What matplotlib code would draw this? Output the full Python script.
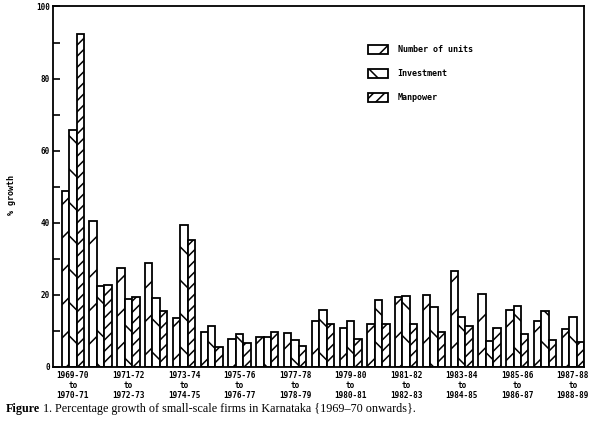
import matplotlib
matplotlib.use("Agg")
import matplotlib.pyplot as plt
import numpy as np
from matplotlib.ticker import MultipleLocator

# ---- data (percentage growth) ----
units = [48.7, 40.6, 27.6, 28.8, 13.7, 9.8, 7.9, 8.2, 9.5, 12.8,
         10.8, 11.9, 19.4, 20.0, 26.6, 20.2, 15.8, 12.8, 10.5]
investment = [65.8, 22.5, 18.8, 19.1, 39.4, 11.4, 9.1, 8.2, 7.5, 15.8,
              12.8, 18.6, 19.8, 16.6, 13.8, 7.3, 16.8, 15.6, 13.8]
manpower = [92.4, 22.8, 19.5, 15.6, 35.3, 5.5, 6.6, 9.8, 5.9, 11.8,
            7.8, 11.8, 11.8, 9.8, 11.4, 10.9, 9.2, 7.6, 6.8]
series_names = ["Number of units", "Investment", "Manpower"]
tick_groups = [0, 2, 4, 6, 8, 10, 12, 14, 16, 18]
tick_labels = ["1969-70\nto\n1970-71", "1971-72\nto\n1972-73", "1973-74\nto\n1974-75",
               "1975-76\nto\n1976-77", "1977-78\nto\n1978-79", "1979-80\nto\n1980-81",
               "1981-82\nto\n1982-83", "1983-84\nto\n1984-85", "1985-86\nto\n1986-87",
               "1987-88\nto\n1988-89"]
caption_bold = "Figure"
caption_rest = " 1. Percentage growth of small-scale firms in Karnataka {1969\u201370 onwards}."

plt.rcParams["font.family"] = ["DejaVu Sans Mono", "DejaVu Sans"]
plt.rcParams["font.weight"] = "bold"
plt.rcParams["hatch.linewidth"] = 1.1
plt.rcParams["hatch.color"] = "black"

fig = plt.figure(figsize=(6.0, 4.28), dpi=100)
ax = fig.add_axes([53 / 600, 1 - 367 / 428, 531 / 600, 360.5 / 428])

x = np.arange(len(units))
w = 0.267
hatches = ["/", "\\", "///"]
handles = []
for i, (vals, h, name) in enumerate(zip([units, investment, manpower], hatches, series_names)):
    b = ax.bar(x + (i - 1) * w, vals, width=w, facecolor="white", edgecolor="black",
               hatch=h, linewidth=1.3, label=name)
    handles.append(b)

ax.set_xlim(-0.714, 18.40)
ax.set_ylim(0, 100)
ax.yaxis.set_major_locator(MultipleLocator(20))
ax.yaxis.set_minor_locator(MultipleLocator(10))
ax.tick_params(axis="y", which="both", direction="in", length=5, width=1.2,
               labelsize=5.5, pad=2)
ax.set_xticks([x[g] for g in tick_groups])
ax.set_xticklabels(tick_labels, fontsize=5.6, linespacing=1.15)
ax.tick_params(axis="x", length=0, pad=3)
for s in ax.spines.values():
    s.set_linewidth(1.3)

leg = ax.legend(handles=handles, loc="upper left",
                bbox_to_anchor=(368 / 600, 1 - 45 / 428), bbox_transform=fig.transFigure,
                frameon=False, fontsize=6, borderpad=0, borderaxespad=0,
                handlelength=2.4, handleheight=1.28, labelspacing=1.75,
                handletextpad=1.16)

fig.text(11 / 600, 1 - 195 / 428, "% growth", rotation=90, ha="center", va="center",
         fontsize=6)

t1 = fig.text(6 / 600, 1 - 415 / 428, caption_bold, fontsize=8.7,
              family="Liberation Serif", weight="bold", ha="left", va="bottom")
ax.annotate(caption_rest, xy=(1, 0), xycoords=t1, fontsize=8.7,
            family="Liberation Serif", weight="normal", ha="left", va="bottom",
            annotation_clip=False)

fig.savefig("out.png", dpi=100)
